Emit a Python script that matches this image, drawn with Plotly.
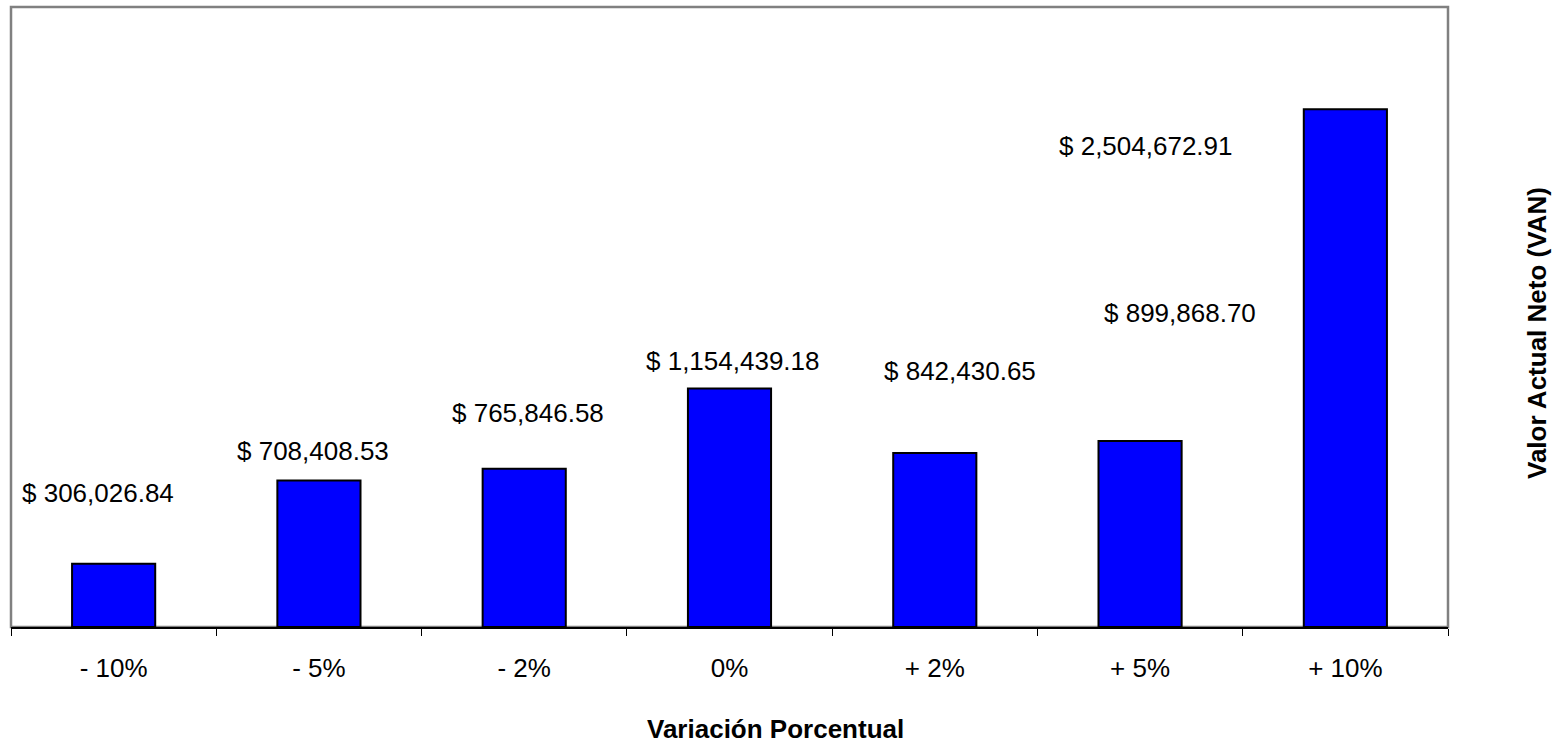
import plotly.graph_objects as go

categories = ["- 10%", "- 5%", "- 2%", "0%", "+ 2%", "+ 5%", "+ 10%"]
van_values = [306026.84, 708408.53, 765846.58, 1154439.18, 842430.65, 899868.70, 2504672.91]
value_labels = ["$ 306,026.84", "$ 708,408.53", "$ 765,846.58", "$ 1,154,439.18",
                "$ 842,430.65", "$ 899,868.70", "$ 2,504,672.91"]

# manual label offsets (pixels) relative to each bar top
label_xshift = [-16, -6, 4, 3, 25, 40, -199]
label_yshift = [71, 30, 56, 27, 82, 128, -37]

FONT = "Liberation Sans, Arial, sans-serif"
FS = 26

fig = go.Figure()
fig.add_trace(go.Bar(
    x=categories, y=van_values,
    marker=dict(color="#0000FF", line=dict(color="black", width=2)),
    hoverinfo="x+y",
))

for cat, val, lab, dx, dy in zip(categories, van_values, value_labels, label_xshift, label_yshift):
    fig.add_annotation(x=cat, y=val, xref="x", yref="y", text=lab, showarrow=False,
                       xshift=dx, yshift=dy, xanchor="center", yanchor="middle",
                       font=dict(family=FONT, size=FS, color="black"))

# plot-area border
fig.add_shape(type="rect", xref="paper", yref="paper", x0=0, y0=0, x1=1, y1=1,
              line=dict(color="#808080", width=2.5), layer="below")

fig.add_annotation(text="<b>Valor Actual Neto (VAN)</b>", xref="paper", yref="paper",
                   x=(1537 - 11) / 1437, y=(627 - 333) / 620, textangle=-90, showarrow=False,
                   xanchor="center", yanchor="middle",
                   font=dict(family=FONT, size=FS, color="black"))

fig.add_annotation(text="<b>Variación Porcentual</b>", xref="paper", yref="paper",
                   x=(775 - 11) / 1437, y=(627 - 729) / 620, showarrow=False,
                   xanchor="center", yanchor="middle",
                   font=dict(family=FONT, size=FS, color="black"))

fig.update_layout(
    width=1557, height=746,
    margin=dict(l=11, r=109, t=7, b=119),
    paper_bgcolor="white", plot_bgcolor="white",
    bargap=0.595,
    showlegend=False,
    font=dict(family=FONT, size=FS, color="black"),
    xaxis=dict(
        type="category", tickson="boundaries", ticks="outside", ticklen=7,
        tickcolor="black", tickwidth=1, showline=True, linecolor="black", linewidth=1.5,
        showgrid=False, tickfont=dict(family=FONT, size=FS, color="black"),
        ticklabelstandoff=17,
    ),
    yaxis=dict(range=[0, 3000000], showgrid=False, showticklabels=False, ticks="",
               zeroline=False, showline=False),
)

fig.write_html("out.html")
